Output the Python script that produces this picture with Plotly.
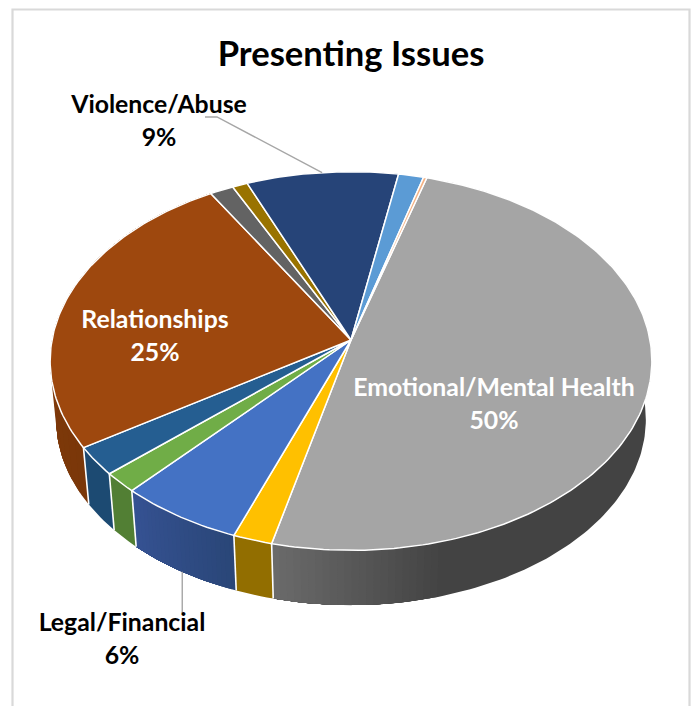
import math
import plotly.graph_objects as go

# Share of each presenting issue, clockwise from the top of the pie
categories = ["Emotional/Mental Health", "Housing", "Legal/Financial", "Health", "Family",
              "Relationships", "Work", "Study", "Violence/Abuse", "Isolation", "Other"]
values = [50, 1.9, 6, 1.7, 2.4, 25, 1.4, 0.9, 9, 1.5, 0.2]
top_colors = ["#A5A5A5", "#FFC000", "#4472C4", "#70AD47", "#255E91", "#9E480E",
              "#636363", "#997300", "#264478", "#5B9BD5", "#F4B183"]
# Side wall shading: colour at the start and end of each slice's sweep
wall_start = ["#434343", "#926E00", "#2A4678", "#527F34", "#1C4A72", "#7A3709",
              "#555555", "#7A5C00", "#1E3660", "#4A7CAB", "#C38E69"]
wall_end = ["#6A6A6A", "#926E00", "#355292", "#527F34", "#1C4A72", "#8A3E0C",
            "#555555", "#7A5C00", "#1E3660", "#4A7CAB", "#C38E69"]
title_text = "Presenting Issues"
TEXT_FONT = "Lato"

# Pie projection parameters
START_DEG = 16.3
SKEW_DEG = 1.3
CX, CY = 351, 340
R, S, K = 299, 187, 0.111
WALL_SCALE, WALL_DROP = 0.98, 59


def skewed(deg):
    # The tilted pie's hub sits slightly off its rim's axis, which bends the sweep
    return deg - SKEW_DEG * (1 - math.cos(math.radians(deg - START_DEG)))


def top_point(deg):
    a = math.radians(deg)
    x, y = math.sin(a), math.cos(a)
    w = 1 + K * y
    return CX + R * x / w, CY - S * y / w


def wall_point(deg):
    a = math.radians(deg)
    x, y = math.sin(a), math.cos(a)
    w = 1 + K * y
    return CX + WALL_SCALE * R * x / w, CY + WALL_DROP - WALL_SCALE * S * y / w


def arc(a0, a1, step=1.0):
    n = max(2, int(abs(a1 - a0) / step) + 1)
    return [a0 + (a1 - a0) * i / (n - 1) for i in range(n)]


def blend(c0, c1, t):
    p = [int(c0[i:i + 2], 16) for i in (1, 3, 5)]
    q = [int(c1[i:i + 2], 16) for i in (1, 3, 5)]
    return "rgb(%d,%d,%d)" % tuple(round(u + (v - u) * t) for u, v in zip(p, q))


def add_polygon(fig, pts, fill, line_color=None, line_width=0):
    fig.add_trace(go.Scatter(
        x=[p[0] for p in pts], y=[p[1] for p in pts], mode="lines",
        fill="toself", fillcolor=fill,
        line=dict(color=line_color or fill, width=line_width),
        hoverinfo="skip", showlegend=False))


total = sum(values)
cumulative = [START_DEG]
for v in values:
    cumulative.append(cumulative[-1] + v / total * 360)
edges = [skewed(d) for d in cumulative]
spans = {c: (edges[i], edges[i + 1]) for i, c in enumerate(categories)}

fig = go.Figure()

# Side walls: each wall is painted as successively shorter bands, so the colour
# steps along the sweep without seams between neighbouring bands
for i, v in enumerate(values):
    a0, a1 = edges[i], edges[i + 1]
    # Emotional/Mental Health stays flat until the last part of its sweep
    grad_from = a0 + (a1 - a0) * 0.83 if i == 0 else a0
    steps = 24 if wall_start[i] != wall_end[i] else 1
    for j in range(steps):
        s0 = a0 if j == 0 else grad_from + (a1 - grad_from) * j / steps
        col = blend(wall_start[i], wall_end[i], j / max(1, steps - 1))
        pts_t = [top_point(d) for d in arc(s0, a1)]
        pts_b = [wall_point(d) for d in arc(a1, s0)]
        add_polygon(fig, pts_t + pts_b + pts_t[:1], col)

# White seams on the visible wall boundaries
for d in edges[:-1]:
    if math.cos(math.radians(d)) < 0:
        t, b = top_point(d), wall_point(d)
        fig.add_trace(go.Scatter(
            x=[t[0], b[0]], y=[t[1], b[1]], mode="lines",
            line=dict(color="white", width=1.6), hoverinfo="skip", showlegend=False))

# Top face of the pie
for i, v in enumerate(values):
    pts = [(CX, CY)] + [top_point(d) for d in arc(edges[i], edges[i + 1])] + [(CX, CY)]
    add_polygon(fig, pts, top_colors[i], "white", 1.5)

# Leader lines for the two labels outside the pie
mid_v = sum(spans["Violence/Abuse"]) / 2
vx, vy = top_point(mid_v)
mid_l = sum(spans["Legal/Financial"]) / 2
lx, ly = wall_point(mid_l)
fig.add_trace(go.Scatter(x=[205, 217, vx], y=[117, 117, vy], mode="lines",
                         line=dict(color="#A6A6A6", width=1.4), hoverinfo="skip", showlegend=False))
fig.add_trace(go.Scatter(x=[lx, lx], y=[ly, 613], mode="lines",
                         line=dict(color="#A6A6A6", width=1.4), hoverinfo="skip", showlegend=False))


def pct(name):
    return f"{values[categories.index(name)]:.0f}%"


labels = [
    ("Emotional/Mental Health", 494, 390, 423, "white"),
    ("Relationships", 155, 322, 355, "white"),
    ("Violence/Abuse", 159, 107, 140, "black"),
    ("Legal/Financial", 122, 625, 658, "black"),
]
for name, x, y0, y1, col in labels:
    fig.add_trace(go.Scatter(
        x=[x, x], y=[y0, y1], mode="text", text=[name, pct(name)],
        textposition="middle center",
        textfont=dict(family=TEXT_FONT, size=24.8, color=col, weight="bold"),
        hoverinfo="skip", showlegend=False))

fig.add_trace(go.Scatter(
    x=[351], y=[57], mode="text", text=[title_text], textposition="middle center",
    textfont=dict(family=TEXT_FONT, size=34.6, color="black", weight="bold"),
    hoverinfo="skip", showlegend=False))

axis = dict(visible=False, fixedrange=True)
fig.update_layout(
    width=696, height=706, margin=dict(l=0, r=0, t=0, b=0),
    paper_bgcolor="white", plot_bgcolor="white",
    xaxis=dict(range=[0, 696], **axis),
    yaxis=dict(range=[706, 0], **axis),
    shapes=[dict(type="path", path="M 12.5 706 L 12.5 9.5 L 689.5 9.5 L 689.5 706",
                 line=dict(color="#D9D9D9", width=2.2), layer="below")],
)
fig.write_html("out.html", config={"displayModeBar": False})
